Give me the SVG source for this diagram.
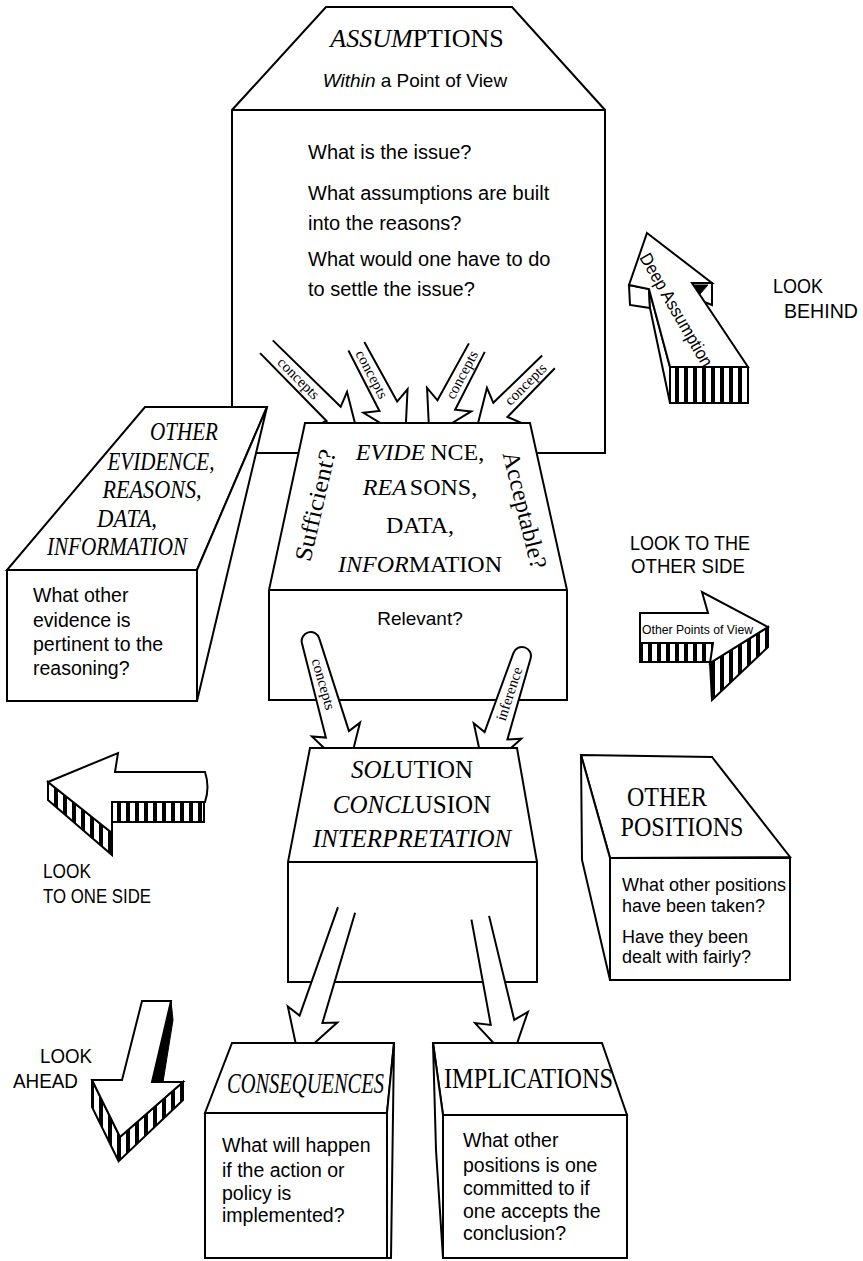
<svg xmlns="http://www.w3.org/2000/svg" width="863" height="1261" viewBox="0 0 863 1261">
<defs>
<style>
.ln{fill:#fff;stroke:#000;stroke-width:2;stroke-linejoin:miter}
.nf{fill:none;stroke:#000;stroke-width:2}
.st{fill:url(#stripes);stroke:#000;stroke-width:2}
.blk{fill:#000;stroke:#000;stroke-width:1}
.sans{font-family:"Liberation Sans",Arial,sans-serif;fill:#000}
.serif{font-family:"Liberation Serif","Times New Roman",serif;fill:#000}
.q{font-size:20px}
.q2{font-size:19.5px}
.it{font-style:italic}
.lk{font-size:21px}
.arr{font-family:"Liberation Serif","Times New Roman",serif;font-size:15px;fill:#000}
</style>
<pattern id="stripes" patternUnits="userSpaceOnUse" width="9" height="9">
<rect width="9" height="9" fill="#fff"/>
<rect width="4" height="9" fill="#000"/>
</pattern>
<clipPath id="cEv"><rect x="0" y="0" width="863" height="422"/></clipPath>
<clipPath id="cSol"><rect x="0" y="0" width="863" height="747"/></clipPath>
<clipPath id="cCI"><rect x="0" y="0" width="863" height="1042"/></clipPath>
</defs>
<rect width="863" height="1261" fill="#fff"/>

<g id="assumptions">
<path class="ln" d="M326,7 L512,7 L605,110 L605,453 L232,453 L232,110 Z"/>
<line class="nf" x1="232" y1="110" x2="605" y2="110"/>
<text class="serif" x="417" y="47" font-size="26" text-anchor="middle"><tspan class="it">ASSUM</tspan>PTIONS</text>
<text class="sans" x="415" y="87" font-size="19" text-anchor="middle"><tspan class="it">Within</tspan> a Point of View</text>
<text class="sans q" x="308" y="159">What is the issue?</text>
<text class="sans q" x="308" y="200">What assumptions are built</text>
<text class="sans q" x="308" y="230">into the reasons?</text>
<text class="sans q" x="308" y="266">What would one have to do</text>
<text class="sans q" x="308" y="296">to settle the issue?</text>
</g>

<g id="evidence">
<path class="ln" d="M305,423 L530,423 L567,590 L567,700 L269,700 L269,590 Z"/>
<line class="nf" x1="269" y1="590" x2="567" y2="590"/>
<text class="serif" x="420" y="460" font-size="24" text-anchor="middle"><tspan class="it">EVIDE</tspan><tspan dx="5">NCE,</tspan></text>
<text class="serif" x="420" y="495" font-size="24" text-anchor="middle"><tspan class="it">REA</tspan><tspan dx="3">SONS,</tspan></text>
<text class="serif" x="420" y="533" font-size="24" text-anchor="middle">DATA,</text>
<text class="serif" x="420" y="572" font-size="24" text-anchor="middle"><tspan class="it">INFOR</tspan>MATION</text>
<text class="serif" font-size="24" text-anchor="middle" textLength="114" lengthAdjust="spacingAndGlyphs" transform="translate(323,507) rotate(-77)">Sufficient?</text>
<text class="serif" font-size="24" text-anchor="middle" textLength="120" lengthAdjust="spacingAndGlyphs" transform="translate(517,512) rotate(76)">Acceptable?</text>
<text class="sans" x="420" y="625" font-size="19" text-anchor="middle">Relevant?</text>
</g>

<g id="other-evidence">
<path class="ln" d="M145,407 L267,407 L197,570 L7,570 Z"/>
<path class="ln" d="M267,407 L197,701 L197,570 Z"/>
<rect class="ln" x="7" y="570" width="190" height="131"/>
<text class="serif it" x="184" y="440" font-size="25" text-anchor="middle" textLength="68" lengthAdjust="spacingAndGlyphs">OTHER</text>
<text class="serif it" x="161" y="470" font-size="25" text-anchor="middle" textLength="107" lengthAdjust="spacingAndGlyphs">EVIDENCE,</text>
<text class="serif it" x="152" y="498" font-size="25" text-anchor="middle" textLength="99" lengthAdjust="spacingAndGlyphs">REASONS,</text>
<text class="serif it" x="127" y="527" font-size="25" text-anchor="middle" textLength="60" lengthAdjust="spacingAndGlyphs">DATA,</text>
<text class="serif it" x="117" y="555" font-size="25" text-anchor="middle" textLength="140" lengthAdjust="spacingAndGlyphs">INFORMATION</text>
<text class="sans q2" x="33" y="602">What other</text>
<text class="sans q2" x="33" y="627">evidence is</text>
<text class="sans q2" x="33" y="651">pertinent to the</text>
<text class="sans q2" x="33" y="675">reasoning?</text>
</g>

<g id="solution">
<path class="ln" d="M310,748 L517,748 L537,862 L537,982 L288,982 L288,862 Z"/>
<line class="nf" x1="288" y1="862" x2="537" y2="862"/>
<text class="serif" x="412" y="778" font-size="25" text-anchor="middle"><tspan class="it">SOL</tspan>UTION</text>
<text class="serif" x="412" y="813" font-size="25" text-anchor="middle"><tspan class="it">CONCL</tspan>USION</text>
<text class="serif it" x="412" y="847" font-size="25" text-anchor="middle">INTERPRETATION</text>
</g>

<g id="other-positions">
<path class="ln" d="M581,755 L712,757 L790,857 L610,858 Z"/>
<path class="ln" d="M581,755 L610,858 L610,980 L582,860 Z"/>
<rect class="ln" x="610" y="858" width="180" height="122"/>
<text class="serif" x="667" y="806" font-size="28" text-anchor="middle" textLength="80" lengthAdjust="spacingAndGlyphs">OTHER</text>
<text class="serif" x="682" y="836" font-size="28" text-anchor="middle" textLength="123" lengthAdjust="spacingAndGlyphs">POSITIONS</text>
<text class="sans" x="622" y="891" font-size="18">What other positions</text>
<text class="sans" x="622" y="912" font-size="18">have been taken?</text>
<text class="sans" x="622" y="943" font-size="18">Have they been</text>
<text class="sans" x="622" y="963" font-size="18">dealt with fairly?</text>
</g>

<g id="consequences">
<path class="ln" d="M232,1043 L394,1043 L387,1113 L205,1113 Z"/>
<path class="ln" d="M394,1043 L391,1258 L387,1258 L387,1113 Z"/>
<rect class="ln" x="205" y="1113" width="182" height="145"/>
<text class="serif it" x="227" y="1093" font-size="30" textLength="157" lengthAdjust="spacingAndGlyphs">CONSEQUENCES</text>
<text class="sans q2" x="222" y="1152">What will happen</text>
<text class="sans q2" x="222" y="1177">if the action or</text>
<text class="sans q2" x="222" y="1200">policy is</text>
<text class="sans q2" x="222" y="1222">implemented?</text>
</g>

<g id="implications">
<path class="ln" d="M433,1043 L602,1043 L627,1115 L443,1115 Z"/>
<path class="ln" d="M433,1043 L443,1115 L443,1258 L436,1150 Z"/>
<rect class="ln" x="443" y="1115" width="184" height="143"/>
<text class="serif" x="444" y="1088" font-size="30" textLength="169" lengthAdjust="spacingAndGlyphs">IMPLICATIONS</text>
<text class="sans q2" x="463" y="1147">What other</text>
<text class="sans q2" x="463" y="1172">positions is one</text>
<text class="sans q2" x="463" y="1195">committed to if</text>
<text class="sans q2" x="463" y="1218">one accepts the</text>
<text class="sans q2" x="463" y="1240">conclusion?</text>
</g>

<g id="look-behind">
<path class="ln" d="M629,285 L649,289 L650,308 L630,305 Z"/>
<path class="ln" d="M649,289 L670,367 L670,403 L650,308 Z"/>
<path class="ln" d="M692,283 L712,283 L712,305 L699,300 Z"/>
<path class="blk" d="M694,285 L708,285 L699,295 Z"/>
<rect class="st" x="670" y="367" width="78" height="36"/>
<path class="ln" d="M647,233 L712,283 L692,283 L748,367 L670,367 L649,289 L629,285 Z"/>
<text class="sans" font-size="18" text-anchor="middle" textLength="128" lengthAdjust="spacingAndGlyphs" transform="translate(671,313) rotate(60)">Deep Assumption</text>
<text class="sans lk" x="773" y="293" textLength="50" lengthAdjust="spacingAndGlyphs">LOOK</text>
<text class="sans lk" x="784" y="318" textLength="74" lengthAdjust="spacingAndGlyphs">BEHIND</text>
</g>

<g id="look-other-side">
<rect class="st" x="640" y="643" width="73" height="19"/>
<path class="st" d="M710,663 L768,627 L768,647 L712,700 Z"/>
<path class="ln" d="M640,613 L708,613 L702,592 L768,627 L710,663 L713,643 L640,643 Z"/>
<text class="sans" x="642" y="634" font-size="13" textLength="111" lengthAdjust="spacingAndGlyphs">Other Points of View</text>
<text class="sans lk" x="630" y="550" textLength="120" lengthAdjust="spacingAndGlyphs">LOOK TO THE</text>
<text class="sans lk" x="631" y="573" textLength="114" lengthAdjust="spacingAndGlyphs">OTHER SIDE</text>
</g>

<g id="look-one-side">
<rect class="st" x="112" y="802" width="92" height="20"/>
<path class="st" d="M48,782 L112,833 L112,855 L48,800 Z"/>
<path class="ln" d="M48,782 L118,753 L115,772 L205,772 Q210,787 205,802 L112,802 L112,833 Z"/>
<text class="sans lk" x="43" y="878" textLength="48" lengthAdjust="spacingAndGlyphs">LOOK</text>
<text class="sans lk" x="43" y="903" textLength="108" lengthAdjust="spacingAndGlyphs">TO ONE SIDE</text>
</g>

<g id="look-ahead">
<path class="blk" d="M171,1001 L173,1020 L163,1082 L152,1082 Z"/>
<path class="st" d="M92,1080 L120,1137 L118,1160 L92,1107 Z"/>
<path class="st" d="M120,1137 L183,1082 L183,1100 L120,1160 Z"/>
<path class="ln" d="M142,1001 L171,1001 L152,1082 L183,1082 L120,1137 L92,1080 L122,1080 Z"/>
<text class="sans lk" x="40" y="1063" textLength="52" lengthAdjust="spacingAndGlyphs">LOOK</text>
<text class="sans lk" x="13" y="1088" textLength="65" lengthAdjust="spacingAndGlyphs">AHEAD</text>
</g>

<g id="connectors">
<g clip-path="url(#cEv)">
<g transform="translate(333.6,413.9) rotate(45)">
<path class="ln" d="M-95,-9 L0,-10 L-6,-25 L36,0 L-6,25 L0,10 L-95,9"/>
<text class="arr" x="-50" y="4.5" text-anchor="middle">concepts</text>
</g>
<g transform="translate(388.3,406.3) rotate(62)">
<path class="ln" d="M-68,-9 L0,-10 L-6,-25 L36,0 L-6,25 L0,10 L-68,9"/>
<text class="arr" x="-36" y="4.5" text-anchor="middle">concepts</text>
</g>
<g transform="translate(446.3,405) rotate(118)">
<path class="ln" d="M-65,-9 L0,-10 L-6,-25 L36,0 L-6,25 L0,10 L-65,9"/>
<text class="arr" transform="translate(-34,0) rotate(180)" y="4.5" text-anchor="middle">concepts</text>
</g>
<g transform="translate(500.4,409.9) rotate(135)">
<path class="ln" d="M-68,-9 L0,-10 L-6,-25 L36,0 L-6,25 L0,10 L-68,9"/>
<text class="arr" transform="translate(-36,0) rotate(180)" y="4.5" text-anchor="middle">concepts</text>
</g>
</g>
<g clip-path="url(#cSol)">
<g transform="translate(337.4,734.3) rotate(74)">
<path class="ln" d="M-97,-9 L0,-12 L-5,-25 L38,0 L-5,25 L0,12 L-97,9 A9,9 0 0 1 -97,-9 Z"/>
<text class="arr" x="-52" y="4.5" font-size="14" text-anchor="middle">concepts</text>
</g>
<g transform="translate(496,735.8) rotate(108)">
<path class="ln" d="M-84,-9 L0,-12 L-5,-25 L38,0 L-5,25 L0,12 L-84,9 A9,9 0 0 1 -84,-9 Z"/>
<text class="arr" transform="translate(-44,0) rotate(180)" y="4.5" font-size="14" text-anchor="middle">inference</text>
</g>
</g>
<g clip-path="url(#cCI)">
<g transform="translate(311,1019.3) rotate(108)">
<path class="ln" d="M-115,-9 L0,-12 L-5,-26 L40,0 L-5,26 L0,12 L-115,9"/>
</g>
<g transform="translate(502.5,1022.4) rotate(78)">
<path class="ln" d="M-107,-9 L0,-12 L-5,-27 L40,0 L-5,27 L0,12 L-107,9"/>
</g>
</g>
</g>
</svg>
